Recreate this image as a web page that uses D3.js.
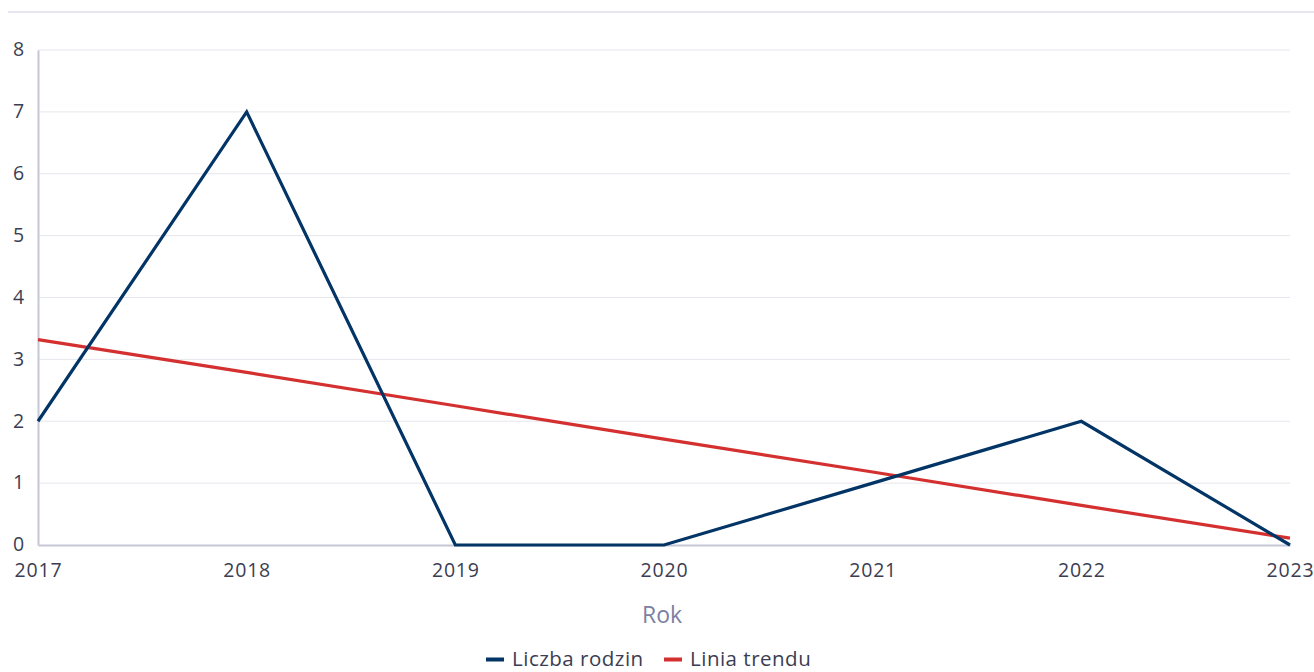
<!DOCTYPE html>
<html><head><meta charset="utf-8">
<script src="https://cdn.jsdelivr.net/npm/d3@7"></script>
<style>
body{margin:0;background:#fff;font-family:"Open Sans",sans-serif;}
</style></head>
<body><svg id="c" width="1314" height="672"></svg>
<script>
const years = [2017, 2018, 2019, 2020, 2021, 2022, 2023];
const families = [2, 7, 0, 0, 1, 2, 0];
const trend = [3.32, 2.79, 2.25, 1.71, 1.18, 0.64, 0.11];
const yTicks = [0, 1, 2, 3, 4, 5, 6, 7, 8];
const seriesNames = ["Liczba rodzin", "Linia trendu"];
const colors = ["#023466", "#d3302f"];

const svg = d3.select("#c");
const m = {l: 38, r: 24, t: 50, b: 127};
const W = 1314, H = 672;
const x = d3.scaleLinear().domain([2017, 2023]).range([m.l, W - m.r]);
const y = d3.scaleLinear().domain([0, 8]).range([H - m.b, m.t]);

svg.append("line").attr("x1", 8).attr("x2", W).attr("y1", 12).attr("y2", 12)
  .attr("stroke", "#e6e7ef").attr("stroke-width", 2);

// gridlines
svg.append("g").selectAll("line").data(yTicks.filter(d => d > 0)).join("line")
  .attr("x1", m.l).attr("x2", W - m.r).attr("y1", d => y(d)).attr("y2", d => y(d))
  .attr("stroke", "#e6e6ee").attr("stroke-width", 1);

const tickStyle = sel => sel.attr("font-family", "Open Sans").attr("font-size", 19.5)
  .attr("letter-spacing", 0.8).attr("fill", "#3b3d52");

// y axis
const ya = svg.append("g").attr("transform", `translate(${m.l},0)`)
  .call(d3.axisLeft(y).tickValues(yTicks).tickSize(0).tickPadding(13));
ya.select(".domain").attr("stroke", "#c5c7d6").attr("stroke-width", 2);
ya.selectAll("text").call(tickStyle).attr("dy", "0.3em");

// x axis
const xa = svg.append("g").attr("transform", `translate(0,${y(0)})`)
  .call(d3.axisBottom(x).tickValues(years).tickFormat(d3.format("d")).tickSize(0).tickPadding(18));
xa.select(".domain").attr("stroke", "#c5c7d6").attr("stroke-width", 2);
xa.selectAll("text").call(tickStyle);

svg.append("text").attr("x", 662).attr("y", 623).attr("text-anchor", "middle")
  .attr("font-family", "Open Sans").attr("font-size", 23).attr("fill", "#7b7fa1").text("Rok");

const line = d3.line().x((d, i) => x(years[i])).y(d => y(d));
svg.append("path").datum(trend).attr("d", line).attr("fill", "none")
  .attr("stroke", colors[1]).attr("stroke-width", 3.2);
svg.append("path").datum(families).attr("d", line).attr("fill", "none")
  .attr("stroke", colors[0]).attr("stroke-width", 3.2).attr("stroke-linejoin", "miter");

// legend
const lg = svg.append("g").attr("font-family", "Open Sans").attr("font-size", 20.5)
  .attr("letter-spacing", 0.5).attr("fill", "#3b3d52");
const legendX = [486, 664];
seriesNames.forEach((n, i) => {
  lg.append("rect").attr("x", legendX[i]).attr("y", 657.5).attr("width", 18).attr("height", 4).attr("fill", colors[i]);
  lg.append("text").attr("x", legendX[i] + 26).attr("y", 666).text(n);
});
</script></body></html>
